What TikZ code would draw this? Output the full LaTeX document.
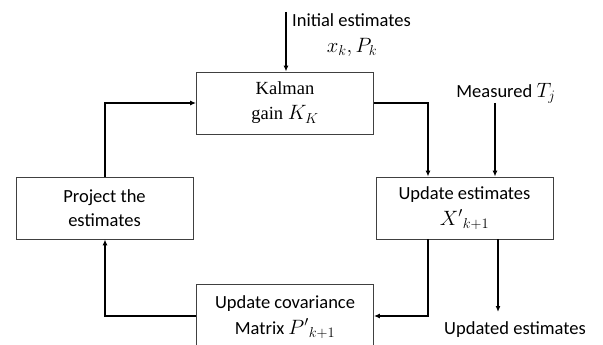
\documentclass[tikz,border=0pt]{standalone}
\usepackage{fontspec}
\setmainfont{Carlito}
\newfontfamily\serifbox{Liberation Serif}
\usetikzlibrary{arrows.meta,calc}
\newcommand{\bigmath}[1]{{\fontsize{21.5}{24}\selectfont$#1$}}
\begin{document}
\begin{tikzpicture}[x=1pt,y=-1pt,
  box/.style={draw=black!75,line width=0.8pt,minimum width=177pt,minimum height=62pt,inner sep=0pt,align=center,font=\fontsize{18.5}{24}\selectfont},
  conn/.style={draw=black,line width=1.3pt,-{Latex[length=6pt,width=5pt]}},
  lbl/.style={font=\fontsize{18.5}{24}\selectfont,inner sep=0pt}]
\useasboundingbox (0,0) rectangle (603,345);
\clip (0,0) rectangle (603,345);
\fill[white] (0,0) rectangle (603,345);
% boxes
\node[box] (kal) at (285,103) {\serifbox Kalman\\[1pt]\serifbox gain \bigmath{K_K}};
\node[box] (upd) at (464.5,208) {Update estimates\\[2pt]\bigmath{{X'}_{k+1}}};
\node[box] (proj) at (104.5,208) {Project the\\estimates};
\node[box,minimum height=66pt] (cov) at (285,317) {Update covariance\\[2pt]Matrix \bigmath{{P'}_{k+1}}};
% labels
\node[lbl,anchor=west] (initl) at (292,20) {Initial estimates};
\node[lbl] (xp) at (352,47) {\bigmath{x_k, P_k}};
\node[lbl] (meas) at (506,93) {Measured \bigmath{T_j}};
\node[lbl] (outl) at (515,330) {Updated estimates};
% coordinates
\coordinate (init) at (286,12);
\coordinate (mtop) at (495,103);
\coordinate (kr) at (428,103);
\coordinate (ud) at (428,316);
\coordinate (out) at (498,312);
\coordinate (pl) at (105,316);
\coordinate (pt) at (105,103);
% connectors
\draw[conn] (init) -- (init |- kal.north);
\draw[conn] (kal.east |- kr) -- (kr) -- (kr |- upd.north);
\draw[conn] (mtop) -- (mtop |- upd.north);
\draw[conn] (out |- upd.south) -- (out);
\draw[conn] (ud |- upd.south) -- (ud) -- (ud -| cov.east);
\draw[conn] (pl -| cov.west) -- (pl) -- (pl |- proj.south);
\draw[conn] (pt |- proj.north) -- (pt) -- (pt -| kal.west);
\end{tikzpicture}
\end{document}
